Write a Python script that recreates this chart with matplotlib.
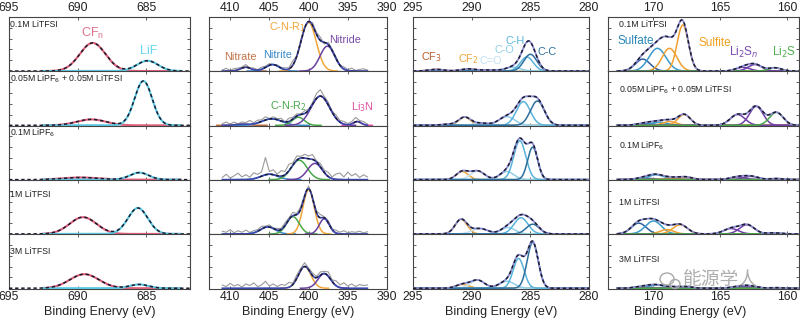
import numpy as np
import matplotlib.pyplot as plt
from matplotlib.patches import Ellipse

plt.rcParams['font.family'] = ['Liberation Sans', 'DejaVu Sans']

samples = ['0.1M LiTFSI', '0.05M LiPF$_6$ + 0.05M LiTFSI', '0.1M LiPF$_6$',
           '1M LiTFSI', '3M LiTFSI']

# F 1s: CFn, LiF  (center eV, height, FWHM) per sample
f_colors = ['#e0607a', '#5cc8e0']
f_center = [[688.9, 684.9], [689.0, 685.2], [689.8, 685.5], [689.6, 685.6], [689.5, 685.5]]
f_height = [[0.52, 0.19], [0.11, 0.82], [0.04, 0.13], [0.31, 0.48], [0.26, 0.07]]
f_fwhm = [[2.2, 1.8], [2.5, 1.5], [3.0, 1.6], [2.3, 1.7], [2.5, 1.6]]

# N 1s: Nitrate, Nitrite, C-N-R1, C-N-R2, Nitride, Li3N
n_colors = ['#b86a3a', '#3a8cc8', '#f2a63a', '#4aa84a', '#6a40a0', '#e050a0']
n_center = [[408.0, 404.6, 400.0, 401.5, 397.6, 393.8],
            [408.5, 404.7, 400.0, 401.3, 398.5, 393.8],
            [408.0, 405.0, 400.0, 401.2, 399.2, 393.8],
            [408.0, 405.2, 400.0, 402.0, 398.0, 393.8],
            [408.0, 405.0, 400.5, 401.5, 398.0, 393.8]]
n_height = [[0.07, 0.12, 0.90, 0.00, 0.46, 0.00],
            [0.02, 0.12, 0.00, 0.15, 0.54, 0.07],
            [0.00, 0.10, 0.00, 0.36, 0.30, 0.00],
            [0.00, 0.13, 0.82, 0.32, 0.28, 0.00],
            [0.00, 0.00, 0.40, 0.00, 0.27, 0.00]]
n_fwhm = [[1.6, 2.0, 2.3, 2.0, 2.2, 1.2],
          [2.0, 3.0, 2.0, 1.8, 2.8, 1.2],
          [2.0, 2.5, 2.0, 2.4, 2.2, 1.2],
          [2.0, 2.2, 1.7, 1.9, 1.5, 1.2],
          [2.0, 2.0, 1.9, 2.0, 1.9, 1.2]]
# raw N 1s counts above the fit, 411 -> 392.5 eV in 0.5 eV steps
n_raw_energy = np.arange(411.0, 392.4, -0.5)
n_resid = [
    [0.02, 0.05, 0.01, 0.04, 0.03, 0.02, 0.05, 0.00, 0.03, 0.01, 0.04, 0.02, 0.03, 0.00, 0.02, 0.01, 0.03, 0.02, 0.08,
     0.00, 0.04, 0.03, -0.02, 0.05, 0.03, 0.06, -0.03, 0.04, 0.02, 0.03, 0.00, 0.04, 0.02, 0.05, 0.01, 0.03, 0.04, 0.02],
    [0.03, 0.06, 0.02, 0.05, 0.01, 0.04, 0.03, 0.07, 0.02, 0.05, 0.03, 0.06, 0.01, 0.04, 0.02, 0.05, 0.00, 0.06, 0.03,
     0.04, 0.01, 0.05, 0.02, 0.03, 0.09, 0.12, 0.04, 0.05, 0.02, 0.06, 0.03, 0.05, 0.02, 0.04, 0.08, 0.03, 0.05, 0.02],
    [0.04, 0.10, 0.03, 0.07, 0.12, 0.05, 0.09, 0.04, 0.11, 0.06, 0.08, 0.32, 0.05, 0.09, 0.03, 0.10, 0.06, 0.12, 0.04,
     0.08, 0.03, 0.07, 0.05, 0.09, 0.02, 0.06, 0.04, 0.08, 0.03, 0.10, 0.12, 0.05, 0.14, 0.07, 0.11, 0.04, 0.09, 0.05],
    [0.05, 0.03, 0.08, 0.02, 0.06, 0.03, 0.07, 0.02, 0.04, 0.03, 0.05, 0.02, 0.04, 0.01, 0.03, 0.02, 0.05, 0.03, 0.06,
     0.02, 0.04, 0.03, 0.05, 0.02, 0.03, 0.06, 0.02, 0.04, 0.01, 0.05, 0.03, 0.06, 0.02, 0.04, 0.03, 0.05, 0.02, 0.04],
    [0.06, 0.03, 0.09, 0.04, 0.07, 0.02, 0.08, 0.05, 0.10, 0.03, 0.06, 0.13, 0.04, 0.08, 0.03, 0.07, 0.05, 0.09, 0.02,
     0.06, 0.04, 0.07, 0.03, 0.05, 0.02, 0.06, 0.04, 0.08, 0.03, 0.09, 0.05, 0.10, 0.04, 0.08, 0.03, 0.07, 0.05, 0.06],
]

# C 1s: CF3, CF2, C=O, C-O, C-H, C-C
c_colors = ['#b5602e', '#eba63a', '#c2e2f2', '#90cfe8', '#58b4dc', '#2d6f9c']
c_center = [[293.0, 290.3, 288.5, 286.5, 285.3, 285.0],
            [292.0, 290.6, 289.2, 287.0, 285.6, 284.4],
            [292.0, 290.8, 289.5, 287.0, 285.9, 284.8],
            [292.0, 290.9, 289.3, 286.9, 285.8, 284.8],
            [292.0, 290.8, 289.5, 287.0, 286.0, 284.8]]
c_height = [[0.03, 0.04, 0.02, 0.07, 0.26, 0.31],
            [0.02, 0.15, 0.04, 0.16, 0.44, 0.45],
            [0.00, 0.15, 0.16, 0.15, 0.72, 0.60],
            [0.00, 0.27, 0.10, 0.12, 0.30, 0.18],
            [0.00, 0.07, 0.15, 0.13, 0.55, 0.85]]
c_fwhm = [[1.5, 1.5, 1.5, 1.5, 1.3, 1.3],
          [1.5, 1.2, 1.5, 1.6, 1.4, 1.4],
          [1.5, 1.2, 1.4, 1.4, 1.2, 1.0],
          [1.5, 1.2, 1.6, 1.4, 1.4, 1.3],
          [1.5, 1.3, 1.4, 1.5, 1.1, 1.1]]

# S 2p: sulfate x2, sulfite x2, Li2Sn x2, Li2S
s_colors = ['#2f5f9f', '#3a9acb', '#f0a030', '#f0a030', '#7040a8', '#7040a8', '#4aa84a']
s_center = [[170.8, 169.7, 168.8, 167.8, 163.3, 162.4, 160.9],
            [170.6, 169.6, 168.8, 167.7, 163.7, 162.3, 160.8],
            [170.7, 169.8, 168.6, 167.6, 163.7, 162.7, 160.8],
            [171.1, 170.0, 169.0, 168.0, 164.2, 163.0, 161.0],
            [170.8, 169.8, 168.6, 167.6, 163.6, 162.8, 160.8]]
s_height = [[0.22, 0.42, 0.42, 0.85, 0.07, 0.12, 0.06],
            [0.04, 0.06, 0.07, 0.20, 0.20, 0.35, 0.24],
            [0.03, 0.09, 0.03, 0.05, 0.05, 0.06, 0.02],
            [0.20, 0.24, 0.08, 0.17, 0.10, 0.17, 0.02],
            [0.03, 0.06, 0.02, 0.03, 0.03, 0.04, 0.01]]
s_fwhm = [[1.3, 1.5, 1.3, 1.0, 1.2, 1.2, 1.1],
          [1.4, 1.4, 1.2, 1.1, 1.3, 1.2, 1.2],
          [1.4, 1.4, 1.2, 1.2, 1.3, 1.3, 1.2],
          [1.3, 1.4, 1.2, 1.3, 1.3, 1.3, 1.2],
          [1.4, 1.4, 1.2, 1.2, 1.3, 1.3, 1.2]]


def peak(x, c, h, w):
    return h * np.exp(-4 * np.log(2) * ((x - c) / w) ** 2)


W, H = 800, 327
fig = plt.figure(figsize=(8, 3.27), dpi=100)

top_px, bot_px = 17, 288.5
row_h = (bot_px - top_px) / 5

columns = [
    # left, right, xlim, ticks, label, label x
    (9, 190, (695, 681.8), [695, 690, 685], 'Binding Enervy (eV)', 100),
    (209, 387, (412.7, 390), [410, 405, 400, 395, 390], 'Binding Energy (eV)', 298),
    (413, 589, (295, 280), [295, 290, 285, 280], 'Binding Energy (eV)', 501),
    (608, 799, (173.4, 159.1), [170, 165, 160], 'Binding Energy (eV)', 690),
]


def make_axes(col):
    l, r, xlim, ticks, xlabel, xl = columns[col]
    axs = []
    for i in range(5):
        y0 = H - top_px - (i + 1) * row_h
        ax = fig.add_axes([l / W, y0 / H, (r - l) / W, row_h / H])
        ax.set_xlim(*xlim)
        ax.set_ylim(-0.005, 1.0)
        ax.set_xticks(ticks)
        ax.set_yticks([0.2, 0.4, 0.6, 0.8])
        ax.tick_params(direction='in', top=True, right=True, length=2.5, width=0.6,
                       colors='#444444', labelsize=8.8, pad=2,
                       labelleft=False, labelbottom=(i == 4), labeltop=(i == 0))
        ax.tick_params(axis='x', labelcolor='#222222')
        for s in ax.spines.values():
            s.set_color('#444444')
            s.set_linewidth(0.8)
        axs.append(ax)
    fig.text(xl / W, 1 - 312 / H, xlabel, ha='center', va='center', fontsize=9, color='#222222')
    return axs


def draw_envelope(ax, x, y, back=None):
    if back:
        ax.plot(x, y, color=back, lw=1.3, zorder=4)
    ax.plot(x, y, color='#1c1c30', lw=1.1, ls=(0, (2.2, 1.8)), zorder=5)


# ---- F 1s ----
axs = make_axes(0)
xe = np.linspace(695, 681.8, 400)
xc = np.linspace(692.5, 682.5, 300)
for i, ax in enumerate(axs):
    env = np.zeros_like(xe)
    for k in range(2):
        ax.plot(xc, peak(xc, f_center[i][k], f_height[i][k], f_fwhm[i][k]),
                color=f_colors[k], lw=1.5, zorder=3)
        env += peak(xe, f_center[i][k], f_height[i][k], f_fwhm[i][k])
    draw_envelope(ax, xe, env)
    ax.text(0.005, 0.86, samples[i], transform=ax.transAxes, fontsize=6.3,
            va='center', ha='left', color='#222222')
axs[0].text(688.9, 0.70, 'CF$_\\mathregular{n}$', color='#e07088', fontsize=9, ha='center', va='center')
axs[0].text(684.8, 0.37, 'LiF', color='#66d6ee', fontsize=9, ha='center', va='center')
axs[3].texts[0].set_y(0.74)
axs[4].texts[0].set_y(0.68)

# ---- N 1s ----
axs = make_axes(1)
xe = np.linspace(411.0, 392.5, 400)
for i, ax in enumerate(axs):
    env = np.zeros_like(xe)
    env_raw = np.zeros_like(n_raw_energy)
    for k in range(6):
        c, h, w = n_center[i][k], n_height[i][k], n_fwhm[i][k]
        if h == 0:
            continue
        xs = np.linspace(c + 1.6 * w, c - 1.6 * w, 120)
        ax.plot(xs, peak(xs, c, h, w), color=n_colors[k], lw=1.1, zorder=3)
        env += peak(xe, c, h, w)
        env_raw += peak(n_raw_energy, c, h, w)
    ax.plot(n_raw_energy, env_raw + np.array(n_resid[i]), color='#9a9a9a', lw=0.8, zorder=2)
    ax.plot(xe, env, color='#3a48b0', lw=1.2, zorder=4)
    mask = env > 0.05
    ax.plot(np.where(mask, xe, np.nan), env, color='#1c1c30', lw=1.0,
            ls=(0, (2.2, 1.8)), zorder=5)
axs[0].text(408.7, 0.26, 'Nitrate', color='#c27448', fontsize=7.8, ha='center', va='center')
axs[0].text(403.9, 0.30, 'Nitrite', color='#3a8ac8', fontsize=7.8, ha='center', va='center')
axs[0].text(402.7, 0.82, 'C-N-R$_1$', color='#f2a63a', fontsize=7.8, ha='center', va='center')
axs[0].text(395.3, 0.58, 'Nitride', color='#7a4aa8', fontsize=7.8, ha='center', va='center')
axs[1].text(402.6, 0.35, 'C-N-R$_2$', color='#4aa84a', fontsize=7.8, ha='center', va='center')
axs[1].text(393.2, 0.33, 'Li$_3$N', color='#e050a0', fontsize=7.8, ha='center', va='center')

# ---- C 1s ----
axs = make_axes(2)
xe = np.linspace(295, 280, 400)
for i, ax in enumerate(axs):
    env = np.zeros_like(xe)
    for k in range(6):
        c, h, w = c_center[i][k], c_height[i][k], c_fwhm[i][k]
        ax.plot(xe, peak(xe, c, h, w), color=c_colors[k], lw=1.1, zorder=3)
        env += peak(xe, c, h, w)
    draw_envelope(ax, xe, env, back='#8c8cd0')
axs[0].text(293.4, 0.26, 'CF$_3$', color='#b8602a', fontsize=7.8, ha='center', va='center')
axs[0].text(290.3, 0.22, 'CF$_2$', color='#eba63a', fontsize=7.8, ha='center', va='center')
axs[0].text(288.4, 0.18, 'C=O', color='#c2e2f2', fontsize=7.8, ha='center', va='center')
axs[0].text(287.2, 0.38, 'C-O', color='#90cfe8', fontsize=7.8, ha='center', va='center')
axs[0].text(286.3, 0.56, 'C-H', color='#58b4dc', fontsize=7.8, ha='center', va='center')
axs[0].text(283.6, 0.36, 'C-C', color='#2d6f9c', fontsize=7.8, ha='center', va='center')

# ---- S 2p ----
axs = make_axes(3)
xc = np.linspace(172.7, 159.1, 400)
for i, ax in enumerate(axs):
    env = np.zeros_like(xc)
    for k in range(7):
        c, h, w = s_center[i][k], s_height[i][k], s_fwhm[i][k]
        ax.plot(xc, peak(xc, c, h, w), color=s_colors[k], lw=1.1, zorder=3)
        env += peak(xc, c, h, w)
    draw_envelope(ax, xc, env, back='#8c8cd0')
    ax.text(0.06, 0.87, samples[i], transform=ax.transAxes, fontsize=6.3,
            va='center', ha='left', color='#222222')
axs[1].texts[0].set_y(0.66)
axs[2].texts[0].set_y(0.62)
axs[3].texts[0].set_y(0.58)
axs[4].texts[0].set_y(0.53)
axs[0].text(171.3, 0.56, 'Sulfate', color='#2a88b8', fontsize=8.5, ha='center', va='center')
axs[0].text(165.4, 0.51, 'Sulfite', color='#f0a020', fontsize=8.5, ha='center', va='center')
axs[0].text(163.2, 0.34, 'Li$_2$S$_n$', color='#7a4ab0', fontsize=8.5, ha='center', va='center')
axs[0].text(160.2, 0.34, 'Li$_2$S', color='#50b050', fontsize=8.5, ha='center', va='center')

# watermark
fig.text(683 / W, 1 - 280 / H, '能源学人', fontsize=13.5, color='#a0a0a0', alpha=0.85,
         family=['Noto Sans CJK SC'], ha='left', va='center')
fig.add_artist(Ellipse((667 / W, 1 - 279 / H), 14 / W, 12 / H, transform=fig.transFigure,
                       fill=False, ec='#a8a8a8', lw=1.0))
fig.add_artist(Ellipse((675 / W, 1 - 284 / H), 10 / W, 9 / H, transform=fig.transFigure,
                       fill=False, ec='#a8a8a8', lw=1.0))

fig.savefig('out.png', dpi=100)
